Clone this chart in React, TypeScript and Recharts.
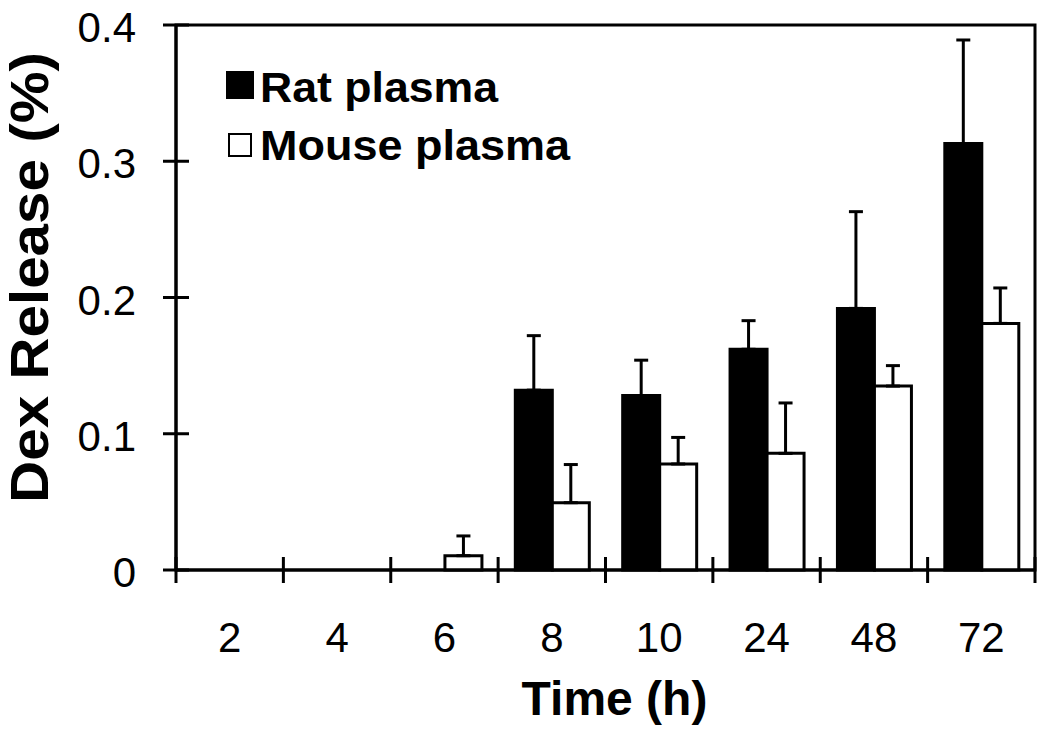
import { Bar, BarChart, ErrorBar, Legend, ReferenceArea, XAxis, YAxis } from 'recharts'

const times = ['2', '4', '6', '8', '10', '24', '48', '72']
const ratRelease = [0, 0, 0, 0.132, 0.128, 0.162, 0.192, 0.313]
const ratErr = [0, 0, 0, 0.04, 0.026, 0.021, 0.071, 0.076]
const mouseRelease = [0, 0, 0.0105, 0.0494, 0.0778, 0.0856, 0.135, 0.181]
const mouseErr = [0, 0, 0.0145, 0.028, 0.0195, 0.037, 0.015, 0.026]
const yTicks = [0, 0.1, 0.2, 0.3, 0.4]
const seriesNames = ['Rat plasma', 'Mouse plasma']

const FONT = "Arial, 'Liberation Sans', Helvetica, sans-serif"

const datos = times.map((t, i) => ({
  tiempo: t,
  rat: ratRelease[i],
  ratErr: [0, ratErr[i]],
  mouse: mouseRelease[i],
  mouseErr: [0, mouseErr[i]],
}))

function YTick(props: any) {
  const { x, y, payload } = props
  return (
    <g>
      <line x1={x - 13} x2={x + 13} y1={y} y2={y} stroke="#000" strokeWidth={3} />
      <text x={x - 40} y={y} dy={17} textAnchor="end" fontSize={42} fontFamily={FONT} fill="#000">
        {payload.value}
      </text>
    </g>
  )
}

function XTick(props: any) {
  const { x, y, payload, index } = props
  const half = payload.offset ?? 0
  const last = index === times.length - 1
  return (
    <g>
      <line x1={x - half} x2={x - half} y1={y - 13} y2={y + 13} stroke="#000" strokeWidth={3} />
      {last && <line x1={x + half} x2={x + half} y1={y - 13} y2={y + 13} stroke="#000" strokeWidth={3} />}
      <text x={x} y={y} dy={82} textAnchor="middle" fontSize={42} fontFamily={FONT} fill="#000">
        {payload.value}
      </text>
    </g>
  )
}

function YTitle(props: any) {
  const { viewBox } = props
  const cx = viewBox.x + 48
  const cy = viewBox.y + viewBox.height / 2 - 20
  return (
    <text
      transform={`translate(${cx}, ${cy}) rotate(-90)`}
      textAnchor="middle"
      fontSize={54}
      fontWeight="bold"
      fontFamily={FONT}
      textLength={451}
      lengthAdjust="spacingAndGlyphs"
      fill="#000"
    >
      Dex Release (%)
    </text>
  )
}

function XTitle(props: any) {
  const { viewBox } = props
  return (
    <text
      x={viewBox.x + viewBox.width / 2 + 9}
      y={viewBox.y + 145}
      textAnchor="middle"
      fontSize={48}
      fontWeight="bold"
      fontFamily={FONT}
      fill="#000"
    >
      Time (h)
    </text>
  )
}

const legendLengths = [238, 310]

function Leyenda(props: any) {
  const { payload } = props
  const entries = [...(payload || [])].sort(
    (a: any, b: any) => seriesNames.indexOf(a.value) - seriesNames.indexOf(b.value),
  )
  return (
    <svg width={400} height={110}>
      {entries.map((entry: any, i: number) => (
        <g key={entry.value}>
          <rect
            x={i === 0 ? 7 : 9}
            y={i === 0 ? 7 : 69}
            width={i === 0 ? 26 : 22}
            height={i === 0 ? 26 : 22}
            fill={entry.color}
            stroke="#000"
            strokeWidth={2}
          />
          <text
            x={40}
            y={i === 0 ? 37 : 95}
            fontSize={42}
            fontWeight="bold"
            fontFamily={FONT}
            textLength={legendLengths[i]}
            lengthAdjust="spacingAndGlyphs"
            fill="#000"
          >
            {entry.value}
          </text>
        </g>
      ))}
    </svg>
  )
}

export default function App() {
  return (
    <div style={{ position: 'absolute', left: 0, top: 0, background: '#fff' }}>
      <BarChart
        width={1050}
        height={735}
        data={datos}
        margin={{ top: 25, right: 15, left: 0, bottom: 0 }}
        barCategoryGap="16%"
        barGap={0}
      >
        <XAxis
          dataKey="tiempo"
          height={165}
          interval={0}
          tickSize={0}
          tickMargin={0}
          tickLine={false}
          axisLine={{ stroke: '#000', strokeWidth: 3 }}
          tick={<XTick />}
          label={{ content: <XTitle /> }}
        />
        <YAxis
          width={176}
          domain={[0, 0.4]}
          ticks={yTicks}
          tickSize={0}
          tickMargin={0}
          tickLine={false}
          axisLine={{ stroke: '#000', strokeWidth: 3 }}
          tick={<YTick />}
          label={{ content: <YTitle /> }}
        />
        <ReferenceArea y1={0} y2={0.4} fill="none" stroke="#000" strokeWidth={3} ifOverflow="visible" />
        <Legend
          layout="horizontal"
          verticalAlign="middle"
          align="center"
          content={<Leyenda />}
          wrapperStyle={{ position: 'absolute', left: 220, top: 65, width: 400, height: 110 }}
        />
        <Bar dataKey="rat" name="Rat plasma" fill="#000" stroke="#000" strokeWidth={3} isAnimationActive={false}>
          <ErrorBar dataKey="ratErr" width={7} stroke="#000" strokeWidth={3} isAnimationActive={false} />
        </Bar>
        <Bar dataKey="mouse" name="Mouse plasma" fill="#fff" stroke="#000" strokeWidth={3} isAnimationActive={false}>
          <ErrorBar dataKey="mouseErr" width={7} stroke="#000" strokeWidth={3} isAnimationActive={false} />
        </Bar>
      </BarChart>
    </div>
  )
}
